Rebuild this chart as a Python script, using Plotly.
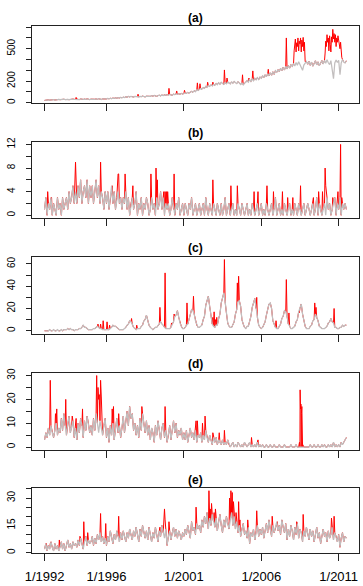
import plotly.graph_objects as go
import pandas as pd

# ---------------- data (monthly gray series, red = observed with outliers) -------------
gray_a = [
    20,24,22,26,23,27,25,28,24,27,26,29,
    27,30,26,31,28,32,29,27,31,28,33,30,
    29,33,30,28,34,31,29,33,30,35,31,28,
    32,30,35,31,34,30,36,32,29,34,33,37,
    34,38,35,40,37,42,39,44,41,46,43,48,
    45,50,47,54,50,57,53,58,55,52,57,54,
    56,52,58,55,60,56,53,59,57,62,58,64,
    60,66,62,58,65,68,63,70,66,72,68,74,
    70,76,72,68,78,74,80,76,82,78,85,80,
    84,90,86,94,88,98,104,96,110,102,118,112,
    122,130,124,140,132,150,142,158,150,165,155,170,
    160,178,166,184,170,188,176,168,186,174,190,178,
    174,192,180,196,184,176,194,182,168,182,164,180,
    188,205,190,214,196,220,202,226,210,232,214,238,
    226,248,232,258,240,268,248,276,254,286,262,296,
    282,306,288,318,296,328,302,336,312,344,320,352,
    336,362,340,372,346,380,352,336,300,348,368,382,
    356,384,346,376,338,372,388,350,378,342,370,390,
    358,392,366,398,370,352,390,300,222,368,396,372,
    392,258,366,400,376,368,388,
]
red_dates_a = ["1992-07-15","1994-01-15","1998-01-15","2000-01-15","2000-07-15","2001-01-15",
               "2001-11-15","2002-01-15","2002-07-15","2002-11-15","2003-08-15","2003-10-15",
               "2004-10-15","2005-03-15","2005-06-15","2006-06-15","2007-08-15",
               "2008-02-15","2008-03-01","2008-03-15","2008-04-01","2008-04-15","2008-05-01",
               "2008-05-15","2008-06-01","2008-06-15","2008-07-01","2008-07-15","2008-08-01",
               "2008-08-15","2008-09-01","2008-09-15","2008-10-01","2008-10-15","2008-11-01",
               "2010-02-15","2010-03-01","2010-03-15","2010-04-01","2010-04-15","2010-05-01",
               "2010-05-15","2010-06-01","2010-06-15","2010-07-01","2010-07-15","2010-08-01",
               "2010-08-15","2010-09-01","2010-09-15","2010-10-01","2010-10-15","2010-11-01",
               "2010-11-15","2010-12-01","2010-12-15","2011-01-01","2011-01-15","2011-02-01",
               "2011-02-15","2011-03-01","2011-03-15","2011-04-01"]
red_vals_a = [33,48,78,132,108,114,
              183,175,189,190,303,228,
              258,228,294,309,600,
              480,560,590,470,555,520,
              600,480,570,545,600,470,
              580,520,605,480,560,380,
              460,570,520,630,560,600,
              480,620,540,470,610,560,
              680,590,640,560,630,520,
              600,560,620,580,540,500,
              560,470,420,400]

gray_b = [
    1,3,0,2,1,3,0,2,1,0,3,1,
    2,0,3,1,2,3,1,4,2,3,5,2,
    4,2,5,3,6,2,4,5,3,6,2,5,
    3,5,2,4,6,3,5,2,4,3,1,4,
    2,4,1,3,5,2,4,1,3,4,2,3,
    1,3,2,4,1,3,0,2,3,1,2,4,
    0,2,1,3,0,2,1,3,2,0,1,3,
    1,2,0,3,1,2,4,1,3,0,2,1,
    2,0,1,3,1,0,2,1,3,0,1,2,
    0,2,1,0,2,1,3,0,1,2,0,1,
    2,0,1,2,0,3,1,0,2,1,0,2,
    1,0,2,1,0,2,0,1,3,0,1,2,
    0,1,2,0,1,0,2,1,0,2,1,0,
    1,2,0,1,0,2,1,0,1,2,0,1,
    2,0,1,0,2,1,0,1,2,0,1,3,
    0,1,2,0,1,0,2,1,0,1,2,0,
    1,0,2,1,0,2,1,0,1,2,0,1,
    2,1,0,1,2,0,1,3,0,2,1,0,
    1,2,0,3,1,2,0,1,2,3,0,2,
    1,3,0,2,1,2,1,
]
red_dates_b = ["1992-03-15","1992-06-15","1994-01-01","1994-01-15","1995-08-15","1996-05-15",
               "1996-10-01","1996-10-15","1997-03-15","1997-09-15","1998-11-15","1999-03-15",
               "1999-04-15","1999-09-15","1999-10-15","1999-11-15","1999-12-15","2000-05-15",
               "2002-11-15","2004-01-15","2004-06-15","2005-07-15","2005-10-15","2006-05-15",
               "2006-10-15","2007-05-15","2007-09-15","2008-01-15","2008-07-15","2009-05-15",
               "2009-09-15","2009-12-15","2010-02-15","2010-03-01","2010-08-15","2010-12-15",
               "2011-02-15","2011-03-15"]
red_vals_b = [4,3,9,6,9,5,
              7,7,7,5,7,8,
              6,4,4,4,4,7,
              6,5,5,4,4,5,
              4,4,3,3,5,3,
              4,4,8,5,3,4,
              12,3]

gray_c = [
    0,0,0,0,1,0,0,1,0,0,1,0,
    0,1,0,1,1,1,2,1,2,1,1,0,
    1,1,1,2,2,3,5,3,3,2,1,1,
    1,1,2,2,3,4,3,2,2,1,1,1,
    1,1,1,2,3,5,4,4,3,2,1,1,
    1,1,2,3,5,6,9,8,6,3,2,1,
    2,2,2,4,5,9,10,14,8,5,3,2,
    1,2,3,3,5,6,8,6,5,3,2,2,
    2,2,3,6,8,13,14,18,12,7,4,2,
    2,3,5,6,10,14,19,18,15,9,5,3,
    3,4,5,10,13,23,26,31,22,14,6,4,
    3,5,5,11,15,25,29,34,26,16,7,4,
    3,3,5,8,15,19,26,27,22,10,6,3,
    2,4,4,9,13,21,24,29,20,12,5,3,
    2,3,5,8,14,18,24,25,20,9,6,3,
    2,2,4,6,11,13,18,17,13,6,4,2,
    2,3,4,8,10,17,20,24,15,9,4,2,
    2,2,4,5,9,10,15,12,9,4,3,2,
    2,2,3,4,7,8,11,8,7,3,3,2,
    2,3,3,5,4,5,5,
]
red_dates_c = ["1995-06-15","1995-08-15","1995-10-15","1996-01-15","1996-03-15","1997-08-15",
               "1997-12-15","1999-06-15","1999-10-15","2000-03-15","2000-05-15","2001-03-15",
               "2001-08-15","2002-11-15","2002-12-15","2003-01-15","2003-02-15","2003-08-15",
               "2004-06-15","2004-07-15","2005-09-15","2006-12-15","2007-08-15","2007-10-15",
               "2008-06-15","2009-06-15","2009-07-15","2010-09-15"]
red_vals_c = [6,6,9,8,5,11,
              5,21,52,7,15,25,
              31,12,17,10,12,64,
              43,49,30,9,46,16,
              16,25,21,20]

gray_d = [
    3,6,4,8,5,9,6,4,7,10,5,8,
    6,12,7,14,9,5,10,13,6,9,11,4,
    8,3,10,6,12,9,4,11,7,13,10,6,
    9,5,12,7,14,10,6,11,8,5,9,12,
    4,8,2,9,5,10,3,7,12,6,9,4,
    8,13,6,11,15,9,17,12,14,7,10,5,
    9,4,12,7,14,10,6,11,5,9,3,8,
    6,2,9,5,11,7,3,8,10,4,7,2,
    5,9,3,8,11,6,10,4,7,5,8,3,
    6,3,7,2,5,8,4,6,3,7,2,5,
    4,6,2,5,3,7,4,2,5,3,1,4,
    2,4,1,3,2,1,3,1,2,1,3,1,
    0,1,2,0,1,0,2,1,0,1,0,2,
    1,0,1,2,0,1,0,1,0,2,0,1,
    0,1,0,0,1,0,0,1,0,0,1,0,
    0,0,1,0,0,0,1,0,0,0,0,1,
    0,0,0,1,0,0,0,0,0,0,0,0,
    0,0,1,0,0,1,0,0,1,0,0,1,
    0,1,0,0,1,0,1,0,2,0,1,0,
    1,0,2,1,2,3,4,
]
red_dates_d = ["1992-05-15","1992-09-15","1992-10-15","1993-05-15","1993-10-15","1994-01-15",
               "1994-06-15","1995-05-15","1995-06-15","1995-07-01","1995-07-15","1995-08-15",
               "1995-09-01","1995-09-15","1996-05-15","1996-06-15","1996-10-15","1998-04-15",
               "1999-10-15","2001-10-15","2001-11-15","2002-03-15","2002-05-15","2002-11-15",
               "2003-04-15","2003-08-15","2005-05-15","2005-10-15",
               "2008-06-20","2008-07-05","2008-07-15","2008-07-25","2008-08-05","2008-08-15",
               "2008-08-25","2008-09-05"]
red_vals_d = [28,14,16,20,13,12,
              16,30,25,20,22,28,
              21,14,16,17,14,17,
              17,11,11,10,13,6,
              6,7,4,3,
              2,24,16,18,14,17,
              12,1]

gray_e = [
    2,5,1,4,2,6,3,1,5,2,4,1,
    3,6,2,5,1,4,7,3,5,2,6,4,
    5,3,7,4,8,5,2,6,9,4,7,5,
    6,9,4,8,5,10,7,11,6,9,5,8,
    4,9,6,12,8,5,10,7,12,9,6,11,
    7,12,9,6,11,8,13,10,7,12,9,14,
    10,6,13,9,15,11,8,12,7,14,10,6,
    11,8,14,10,6,12,9,15,11,8,13,4,
    9,12,7,11,14,9,13,8,12,10,7,11,
    9,13,10,15,11,8,17,12,14,10,16,13,
    15,11,18,14,20,16,22,13,19,15,21,17,
    14,19,12,17,21,15,11,18,14,20,16,13,
    18,22,15,20,13,17,11,15,9,13,16,10,
    12,8,14,5,11,9,13,7,12,15,9,13,
    10,14,8,12,16,11,18,13,9,15,11,14,
    17,12,15,10,18,14,11,16,7,13,9,15,
    12,7,14,10,16,8,13,11,6,12,9,14,
    11,7,13,9,12,6,10,14,8,11,5,10,
    13,9,11,6,12,8,10,14,7,11,9,6,
    10,3,8,11,6,9,8,
]
red_dates_e = ["1992-01-15","1992-02-15","1992-05-15","1992-12-15","1994-04-15","1994-07-15",
               "1994-10-15","1995-08-15","1995-12-15","1996-10-15","1999-06-15","1999-10-01",
               "1999-10-15","2000-01-15","2001-10-15","2002-08-15","2002-09-15","2002-10-15",
               "2002-12-15","2003-01-15","2003-12-15","2004-01-15","2004-02-15","2004-03-15",
               "2004-05-15","2004-07-15","2004-08-15","2005-02-15","2005-09-15","2006-09-15",
               "2007-01-15","2008-04-15","2008-09-15","2010-07-15","2010-09-15"]
red_vals_e = [5,5,5,7,9,17,
              11,21.5,16,20,14,24,
              18,17,25,34,24,27,
              22,24,30,34,33,28,
              22,28,18,18,23,20,
              17,17,21,19,20]

panel_titles = ["(a)", "(b)", "(c)", "(d)", "(e)"]
x_tick_dates = ["1992-01-01", "1996-01-01", "2001-01-01", "2006-01-01", "2011-01-01"]
x_tick_labels = ["1/1992", "1/1996", "1/2001", "1/2006", "1/2011"]
y_ticks = [
    (list(range(0, 701, 100)), {0: "0", 200: "200", 500: "500"}),
    (list(range(0, 13, 2)), {0: "0", 4: "4", 8: "8", 12: "12"}),
    (list(range(0, 61, 10)), {0: "0", 20: "20", 40: "40", 60: "60"}),
    (list(range(0, 31, 5)), {0: "0", 10: "10", 20: "20", 30: "30"}),
    (list(range(0, 36, 5)), {0: "0", 15: "15", 30: "30"}),
]

# ---------------- figure -------------
W, H = 363, 586
boxes = [(21.7, 99.3), (138.0, 215.3), (254.3, 332.0), (371.5, 449.5), (488.3, 554.0)]
x_left, x_right = 25, 359

grays = [gray_a, gray_b, gray_c, gray_d, gray_e]
reds = [(red_dates_a, red_vals_a), (red_dates_b, red_vals_b), (red_dates_c, red_vals_c),
        (red_dates_d, red_vals_d), (red_dates_e, red_vals_e)]

months = pd.date_range("1992-01-01", periods=len(gray_a), freq="MS")
t0, t1 = months[0], months[-1] + pd.Timedelta(days=15)
pad = (t1 - t0) * 0.04
x_range = [t0 - pad, t1 + pad]

RED = "#FF0000"
GRAY = "rgb(194,190,190)"
FONT = "Liberation Sans, Arial, sans-serif"

fig = go.Figure()
layout = dict(width=W, height=H, margin=dict(l=0, r=0, t=0, b=0),
              paper_bgcolor="white", plot_bgcolor="white", showlegend=False,
              font=dict(family=FONT, color="black"))
annotations = []

for i in range(5):
    g = pd.Series(grays[i], index=months[:len(grays[i])])
    rd, rv = reds[i]
    o = pd.Series(rv, index=pd.to_datetime(rd), dtype=float)
    r = pd.concat([g[~g.index.isin(o.index)].astype(float), o]).sort_index()
    suffix = "" if i == 0 else str(i + 1)
    xa, ya = "x" + suffix, "y" + suffix
    fig.add_trace(go.Scatter(x=r.index, y=r.values, mode="lines", xaxis=xa, yaxis=ya,
                             line=dict(color=RED, width=1)))
    fig.add_trace(go.Scatter(x=g.index, y=g.values, mode="lines", xaxis=xa, yaxis=ya,
                             line=dict(color=GRAY, width=1.25)))
    lo = min(r.min(), g.min()); hi = max(r.max(), g.max())
    yr = [lo - 0.04 * (hi - lo), hi + 0.04 * (hi - lo)]
    top, bot = boxes[i]
    tv, labels = y_ticks[i]
    layout["xaxis" + suffix] = dict(
        domain=[x_left / W, x_right / W], range=x_range, anchor=ya,
        showline=True, mirror=True, linecolor="#222", linewidth=1,
        showgrid=False, zeroline=False, ticks="outside", ticklen=7, tickcolor="#222",
        tickvals=pd.to_datetime(x_tick_dates),
        ticktext=x_tick_labels if i == 4 else [""] * 5,
        tickfont=dict(size=13, family=FONT, color="black"), ticklabelstandoff=4,
    )
    layout["yaxis" + suffix] = dict(
        domain=[1 - bot / H, 1 - top / H], range=yr, anchor=xa,
        showline=True, mirror=True, linecolor="#222", linewidth=1,
        showgrid=False, zeroline=False, ticks="outside", ticklen=5, tickcolor="#222",
        tickvals=tv, ticktext=[labels.get(v, "") for v in tv], tickangle=-90,
        tickfont=dict(size=10, family=FONT, color="black"), ticklabelstandoff=7,
    )
    annotations.append(dict(text="<b>" + panel_titles[i] + "</b>", xref="paper", yref="paper",
                            x=(x_left + x_right) / 2 / W, y=1 - (top - 8.3) / H,
                            xanchor="center", yanchor="middle", showarrow=False,
                            font=dict(size=12, family=FONT, color="black")))

layout["annotations"] = annotations
fig.update_layout(**layout)
fig.write_html("out.html")
